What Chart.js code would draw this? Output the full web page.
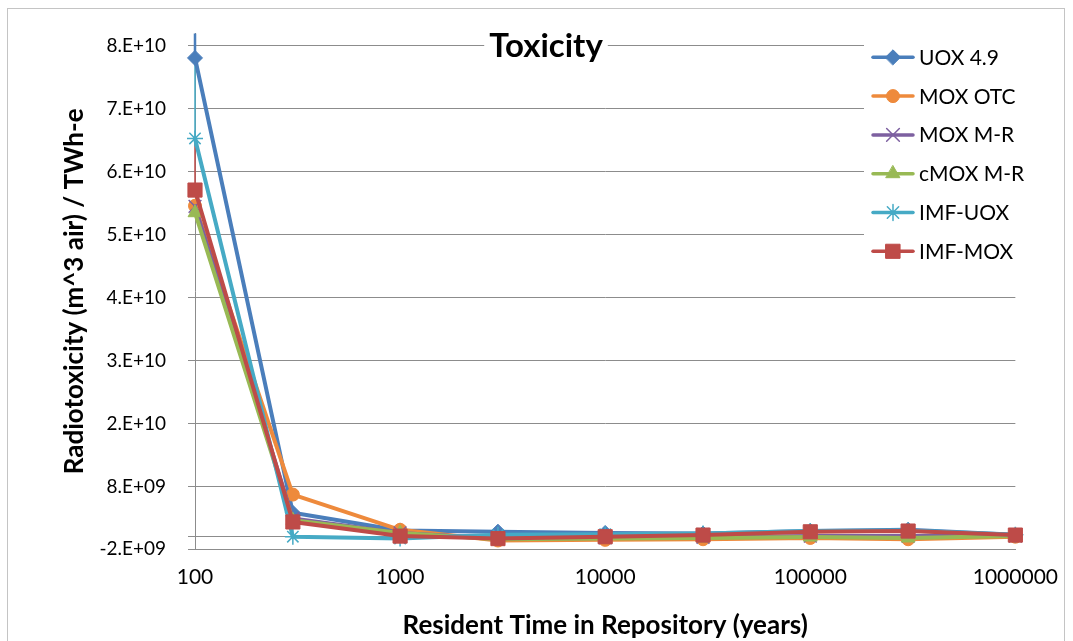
<!DOCTYPE html>
<html>
<head>
<meta charset="utf-8">
<script src="https://cdn.jsdelivr.net/npm/chart.js@4.4.1/dist/chart.umd.min.js"></script>
<style>
  html, body { margin: 0; padding: 0; background: #ffffff; }
  #wrap { width: 1073px; height: 641px; position: relative; }
  canvas { display: block; }
</style>
</head>
<body>
<div id="wrap"><canvas id="chart" width="1073" height="641"></canvas></div>
<script>
// Resident time in repository (years), sampled on a log axis
const years = [100, 300, 1000, 3000, 10000, 30000, 100000, 300000, 1000000];
const xTickValues = [100, 1000, 10000, 100000, 1000000];

// Radiotoxicity (m^3 air) per TWh-e for each fuel cycle
const seriesNames = ['UOX 4.9', 'MOX OTC', 'MOX M-R', 'cMOX M-R', 'IMF-UOX', 'IMF-MOX'];
const uox49   = [7.61e10, 3.8e9, 1.0e9,  0.8e9,  0.6e9,  0.5e9,  0.9e9,   1.1e9,  0.3e9];
const moxOtc  = [5.26e10, 6.7e9, 1.1e9, -0.6e9, -0.5e9, -0.4e9, -0.2e9,  -0.4e9,  0.0];
const moxMR   = [5.25e10, 2.9e9, 0.6e9, -0.3e9, -0.2e9, -0.1e9,  0.1e9,   0.1e9,  0.1e9];
const cmoxMR  = [5.15e10, 2.6e9, 0.6e9, -0.4e9, -0.3e9, -0.2e9, -0.05e9, -0.2e9,  0.1e9];
const imfUox  = [6.33e10, 0.0,  -0.3e9,  0.3e9,  0.4e9,  0.5e9,  0.9e9,   1.0e9,  0.3e9];
const imfMox  = [5.51e10, 2.35e9, 0.1e9, -0.3e9, 0.0,    0.26e9, 0.78e9,  0.9e9,  0.26e9];
const seriesValues = [uox49, moxOtc, moxMR, cmoxMR, imfUox, imfMox];

// Value axis: ticks every 1E10 starting at -2E9, plus an unlabelled zero line
const yMin = -2e9;
const yMax = 8e10;
const yTickValues = [-2e9, 0, 8e9, 1.8e10, 2.8e10, 3.8e10, 4.8e10, 5.8e10, 6.8e10, 7.8e10];
const yTickLabels = ['-2.E+09', '', '8.E+09', '2.E+10', '3.E+10', '4.E+10', '5.E+10', '6.E+10', '7.E+10', '8.E+10'];

// Line and marker styling per series
const seriesStyles = [
  { color: '#4A7EBB', pointStyle: 'rectRot',  radius: 7.5, markerBorder: 1 },
  { color: '#EE8A3C', pointStyle: 'circle',   radius: 6.5, markerBorder: 1 },
  { color: '#7D60A0', pointStyle: 'crossRot', radius: 9,   markerBorder: 1.5 },
  { color: '#98B954', pointStyle: 'triangle', radius: 8,   markerBorder: 1 },
  { color: '#46AAC5', pointStyle: 'star',     radius: 8,   markerBorder: 1.5 },
  { color: '#BE4B48', pointStyle: 'rect',     radius: 10,  markerBorder: 1 }
];

const FONT = 'Lato, "Open Sans", "Liberation Sans", sans-serif';
const GRID = '#8c8c8c';

const datasets = seriesValues.map((vals, i) => {
  const st = seriesStyles[i];
  return {
    label: seriesNames[i],
    data: years.map((x, j) => ({ x: x, y: vals[j] })),
    borderColor: st.color,
    backgroundColor: st.color,
    borderWidth: 4,
    borderJoinStyle: 'round',
    borderCapStyle: 'round',
    pointStyle: st.pointStyle,
    pointRadius: st.radius,
    pointHoverRadius: st.radius,
    pointBorderWidth: st.markerBorder,
    pointBackgroundColor: st.color,
    pointBorderColor: st.color,
    tension: 0,
    clip: false,
    order: seriesValues.length - i
  };
});

// Thin vertical connectors at the first sample, running up from each series' start
const stem = (from, to, color, width) => ({
  label: '',
  data: [{ x: years[0], y: from }, { x: years[0], y: to }],
  borderColor: color,
  borderWidth: width,
  pointRadius: 0,
  pointHoverRadius: 0,
  clip: false,
  order: 20
});
datasets.push(stem(yMax, uox49[0], seriesStyles[0].color, 2.5));
datasets.push(stem(uox49[0], imfUox[0], seriesStyles[4].color, 1.5));
datasets.push(stem(imfUox[0], imfMox[0], seriesStyles[5].color, 1.5));

// White page with a light outer frame
const framePlugin = {
  id: 'frame',
  beforeDraw(chart) {
    const ctx = chart.ctx;
    ctx.save();
    ctx.fillStyle = '#ffffff';
    ctx.fillRect(0, 0, chart.width, chart.height);
    ctx.strokeStyle = '#c4c4c4';
    ctx.lineWidth = 1;
    ctx.strokeRect(7.5, 8.5, 1057, 660);
    ctx.restore();
  }
};

// Chart heading sits inside the plot on a white patch over the grid
const headingPlugin = {
  id: 'heading',
  beforeDatasetsDraw(chart) {
    const ctx = chart.ctx;
    const text = 'Toxicity';
    ctx.save();
    ctx.font = 'bold 33px ' + FONT;
    const w = ctx.measureText(text).width;
    const cx = 546;
    ctx.fillStyle = '#ffffff';
    ctx.fillRect(cx - w / 2 - 5, 30, w + 10, 36);
    ctx.fillStyle = '#000000';
    ctx.textAlign = 'center';
    ctx.textBaseline = 'alphabetic';
    ctx.fillText(text, cx, 57);
    ctx.restore();
  }
};

// Series key: line sample with marker and name, on a white panel
const keyPlugin = {
  id: 'seriesKey',
  afterDraw(chart) {
    const ctx = chart.ctx;
    ctx.save();
    ctx.fillStyle = '#ffffff';
    ctx.fillRect(864, 30, 185, 242);
    seriesNames.forEach((name, i) => {
      const st = seriesStyles[i];
      const y = 57.3 + i * 38.8;
      ctx.strokeStyle = st.color;
      ctx.lineWidth = 3.5;
      ctx.lineCap = 'round';
      ctx.beginPath();
      ctx.moveTo(873, y);
      ctx.lineTo(913, y);
      ctx.stroke();
      ctx.fillStyle = st.color;
      ctx.strokeStyle = st.color;
      ctx.lineWidth = st.markerBorder;
      Chart.helpers.drawPoint(ctx, {
        pointStyle: st.pointStyle,
        radius: st.radius,
        borderWidth: st.markerBorder,
        rotation: 0
      }, 893, y);
      ctx.fillStyle = '#000000';
      ctx.font = '21px ' + FONT;
      ctx.textAlign = 'left';
      ctx.textBaseline = 'alphabetic';
      ctx.fillText(name, 919, y + 7.5);
    });
    ctx.restore();
  }
};

new Chart(document.getElementById('chart'), {
  type: 'line',
  data: { datasets: datasets },
  plugins: [framePlugin, headingPlugin, keyPlugin],
  options: {
    responsive: false,
    animation: false,
    events: [],
    layout: { padding: { left: 0, right: 51, top: 29, bottom: 0 } },
    plugins: {
      legend: { display: false },
      tooltip: { enabled: false },
      title: { display: false }
    },
    scales: {
      x: {
        type: 'logarithmic',
        min: years[0],
        max: years[years.length - 1],
        afterBuildTicks: (scale) => { scale.ticks = xTickValues.map(v => ({ value: v })); },
        afterFit: (scale) => { scale.height = 91.7; },
        ticks: {
          callback: (value) => String(value),
          font: { family: FONT, size: 21 },
          color: '#000000',
          padding: 15,
          maxRotation: 0,
          autoSkip: false
        },
        grid: { display: false, drawTicks: false },
        border: { display: true, color: GRID, width: 1 },
        title: {
          display: true,
          text: 'Resident Time in Repository (years)',
          font: { family: FONT, size: 26, weight: 'bold' },
          color: '#000000',
          padding: { top: 0, bottom: 0 }
        }
      },
      y: {
        type: 'linear',
        min: yMin,
        max: yMax,
        afterBuildTicks: (scale) => { scale.ticks = yTickValues.map(v => ({ value: v })); },
        afterFit: (scale) => { scale.width = 195; },
        ticks: {
          callback: (value, index) => yTickLabels[index],
          font: { family: FONT, size: 19 },
          color: '#000000',
          padding: 22,
          autoSkip: false
        },
        grid: { color: GRID, lineWidth: 1, drawTicks: true, tickLength: 7 },
        border: { display: true, color: GRID, width: 1 },
        title: {
          display: true,
          text: 'Radiotoxicity (m^3 air) / TWh-e',
          font: { family: FONT, size: 26, weight: 'bold' },
          color: '#000000',
          padding: { top: 59, bottom: 0 }
        }
      }
    }
  }
});
</script>
</body>
</html>
